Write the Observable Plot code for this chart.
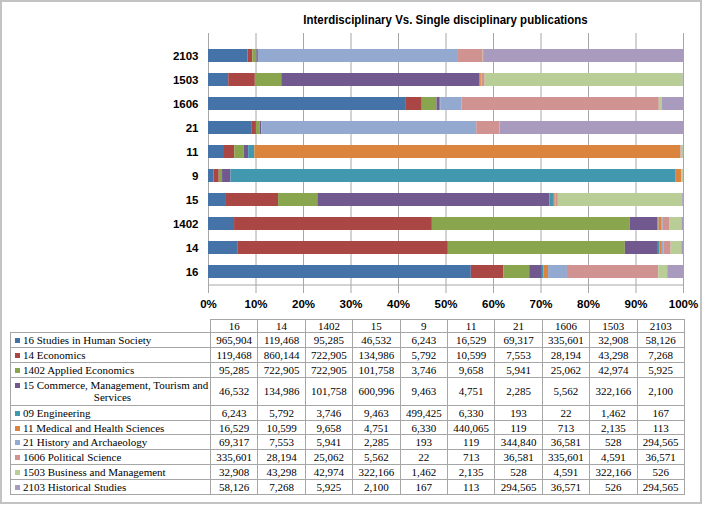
<!DOCTYPE html>
<html><head><meta charset="utf-8">
<script src="https://cdn.jsdelivr.net/npm/d3@7"></script>
<script src="https://cdn.jsdelivr.net/npm/@observablehq/plot@0.6"></script>
<style>
body{margin:0;background:#fff;}
#wrap{position:relative;width:708px;height:507px;overflow:hidden;font-family:"Liberation Sans",Arial,sans-serif;background:#fff;}
#frame{position:absolute;left:0;top:0;width:698px;height:500px;border:2px solid #c3c3c3;pointer-events:none;}
#title{position:absolute;left:208px;width:475px;top:12px;text-align:center;font-weight:bold;font-size:13.5px;color:#000;white-space:nowrap;transform:scaleX(0.85);transform-origin:center;}
#chart{position:absolute;left:0;top:0;}
#tbl{position:absolute;left:10px;top:319px;border-collapse:collapse;table-layout:fixed;width:674px;font-family:"Liberation Serif","Times New Roman",serif;font-size:11px;color:#000;}
#tbl td{border:1px solid #a6a6a6;padding:0;text-align:center;vertical-align:middle;line-height:12px;white-space:nowrap;overflow:hidden;}
#tbl td.blank{border:none;}
#tbl td.lab{text-align:left;padding-left:4px;}
#tbl .key{display:inline-block;width:5px;height:5px;margin-right:3px;vertical-align:1px;}
#tbl tr.h td{height:10px;}
#tbl tr.r td{height:13.9px;}
#tbl tr.r2 td{height:27px;}
</style>
</head><body>
<div id="wrap">
  <div id="chart"></div>
  <div id="title"></div>
  <table id="tbl"></table>
  <div id="frame"></div>
</div>
<script>
const titleText = "Interdisciplinary Vs. Single disciplinary publications";
const categories = ["16","14","1402","15","9","11","21","1606","1503","2103"];
const seriesNames = [
  "16 Studies in Human Society",
  "14 Economics",
  "1402 Applied Economics",
  "15 Commerce, Management, Tourism and Services",
  "09 Engineering",
  "11 Medical and Health Sciences",
  "21 History and Archaeology",
  "1606 Political Science",
  "1503 Business and Management",
  "2103 Historical Studies"
];
const seriesColors = ["#4572A7","#AA4643","#89A54E","#71588F","#4198AF","#DB843D","#93A9CF","#D19392","#B9CD96","#A99BBD"];
const studiesHumanSociety = [965904,119468,95285,46532,6243,16529,69317,335601,32908,58126];
const economics          = [119468,860144,722905,134986,5792,10599,7553,28194,43298,7268];
const appliedEconomics   = [95285,722905,722905,101758,3746,9658,5941,25062,42974,5925];
const commerce           = [46532,134986,101758,600996,9463,4751,2285,5562,322166,2100];
const engineering        = [6243,5792,3746,9463,499425,6330,193,22,1462,167];
const medical            = [16529,10599,9658,4751,6330,440065,119,713,2135,113];
const history            = [69317,7553,5941,2285,193,119,344840,36581,528,294565];
const politicalScience   = [335601,28194,25062,5562,22,713,36581,335601,4591,36571];
const business           = [32908,43298,42974,322166,1462,2135,528,4591,322166,526];
const historicalStudies  = [58126,7268,5925,2100,167,113,294565,36571,526,294565];
const seriesValues = [studiesHumanSociety,economics,appliedEconomics,commerce,engineering,medical,history,politicalScience,business,historicalStudies];
const xTicks = [0,0.1,0.2,0.3,0.4,0.5,0.6,0.7,0.8,0.9,1];

const rows = [];
seriesValues.forEach((vals, si) => vals.forEach((v, ci) => rows.push({cat: categories[ci], series: seriesNames[si], value: v})));

const H = 313, mTop = 33, mBottom = 20;
const step = (H - mTop - mBottom) / categories.length;

const chart = Plot.plot({
  width: 708, height: H,
  marginLeft: 208, marginRight: 25, marginTop: mTop, marginBottom: mBottom,
  style: {background: "transparent", fontFamily: "'Liberation Sans', Arial, sans-serif", fontSize: "11.5px", fontWeight: "bold", color: "#000"},
  x: {domain: [0, 1], label: null},
  y: {domain: categories.slice().reverse(), label: null, padding: 0.46},
  color: {domain: seriesNames, range: seriesColors},
  marks: [
    Plot.gridX(xTicks, {stroke: "#a6a6a6", strokeOpacity: 1, strokeWidth: 1}),
    Plot.barX(rows, Plot.stackX({x: "value", y: "cat", fill: "series", offset: "normalize", order: seriesNames})),
    Plot.ruleY([categories[0]], {stroke: "#a6a6a6", dy: step / 2}),
    Plot.axisX(xTicks, {tickFormat: d3.format(".0%"), tickSize: 0, tickPadding: 6, fill: "#000"}),
    Plot.axisY({tickSize: 0, tickPadding: 10, fill: "#000"})
  ]
});
document.getElementById("chart").appendChild(chart);
document.getElementById("title").textContent = titleText;

// data table
const tbl = document.getElementById("tbl");
const colg = document.createElement("colgroup");
const c0 = document.createElement("col"); c0.style.width = "200px"; colg.appendChild(c0);
categories.forEach(() => { const c = document.createElement("col"); c.style.width = "47.4px"; colg.appendChild(c); });
tbl.appendChild(colg);
const fmt = d3.format(",");
const hr = document.createElement("tr"); hr.className = "h";
const blank = document.createElement("td"); blank.className = "blank"; hr.appendChild(blank);
categories.forEach(c => { const td = document.createElement("td"); td.textContent = c; hr.appendChild(td); });
tbl.appendChild(hr);
seriesNames.forEach((name, si) => {
  const tr = document.createElement("tr");
  const lab = document.createElement("td"); lab.className = "lab";
  const key = `<span class="key" style="background:${seriesColors[si]}"></span>`;
  if (name.length > 34) {
    const cut = name.lastIndexOf(" ");
    lab.innerHTML = `<div>${key}${name.slice(0, cut)}</div><div style="text-align:center">${name.slice(cut + 1)}</div>`;
    tr.className = "r2";
  } else {
    lab.innerHTML = key + name;
    tr.className = "r";
  }
  tr.appendChild(lab);
  seriesValues[si].forEach(v => { const td = document.createElement("td"); td.textContent = fmt(v); tr.appendChild(td); });
  tbl.appendChild(tr);
});
</script>
</body></html>
